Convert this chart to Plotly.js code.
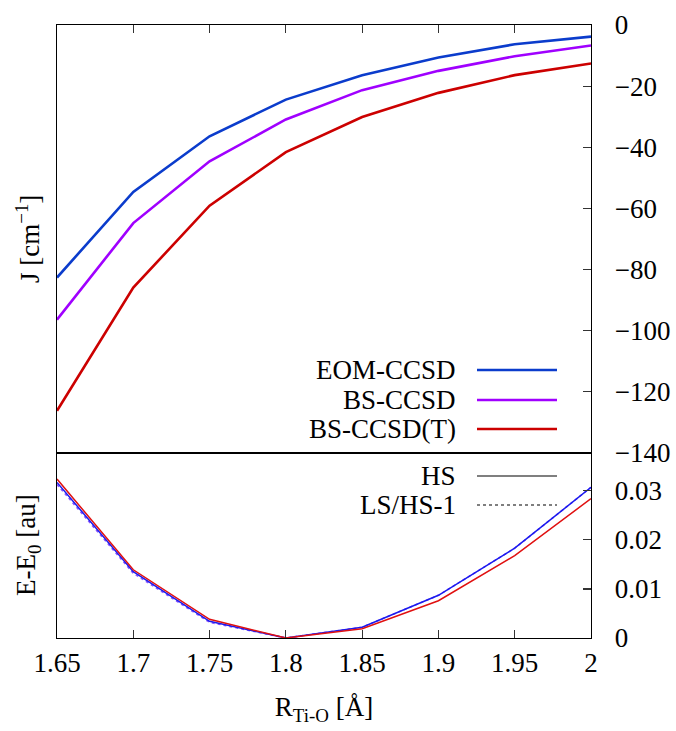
<!DOCTYPE html>
<html>
<head>
<meta charset="utf-8">
<script src="https://cdn.plot.ly/plotly-3.0.1.min.js"></script>
<style>html,body{margin:0;padding:0;background:#fff;}#chart{width:676px;height:731px;}</style>
</head>
<body>
<div id="chart"></div>
<script>
// ---- data ----
const R = [1.65, 1.7, 1.75, 1.8, 1.85, 1.9, 1.95, 2.0];
const J_EOM_CCSD = [-82.6, -54.6, -36.4, -24.4, -16.4, -10.6, -6.3, -3.8];
const J_BS_CCSD = [-96.4, -64.8, -44.6, -30.9, -21.3, -15.0, -10.2, -6.7];
const J_BS_CCSD_T = [-126.2, -85.9, -59.1, -41.6, -30.1, -22.2, -16.4, -12.6];
const E_HS_blue = [0.0317, 0.0135, 0.0034, 0.0, 0.0022, 0.0087, 0.0183, 0.0307];
const E_LS_purple = [0.0313, 0.0132, 0.0032, 0.0, 0.0022, 0.0087, 0.0183, 0.0307];
const E_HS_red = [0.0324, 0.0139, 0.0038, 0.0, 0.0019, 0.0076, 0.0168, 0.0284];
const xTicks = [1.65, 1.7, 1.75, 1.8, 1.85, 1.9, 1.95, 2];
const xTickText = ['1.65', '1.7', '1.75', '1.8', '1.85', '1.9', '1.95', '2'];
const jTicks = [0, -20, -40, -60, -80, -100, -120, -140];
const eTicks = [0, 0.01, 0.02, 0.03];
const eTickText = ['0', '0.01', '0.02', '0.03'];
const topLegend = ['EOM-CCSD', 'BS-CCSD', 'BS-CCSD(T)'];
const botLegend = ['HS', 'LS/HS-1'];

const cBlue = '#0b3ccc', cPurple = '#a000ff', cRed = '#cc0000';
const FONT = 'Liberation Serif, Times New Roman, serif';

const traces = [
  {x: R, y: J_EOM_CCSD, xaxis: 'x2', yaxis: 'y2', mode: 'lines', name: topLegend[0], line: {color: cBlue, width: 2.6}},
  {x: R, y: J_BS_CCSD, xaxis: 'x2', yaxis: 'y2', mode: 'lines', name: topLegend[1], line: {color: cPurple, width: 2.6}},
  {x: R, y: J_BS_CCSD_T, xaxis: 'x2', yaxis: 'y2', mode: 'lines', name: topLegend[2], line: {color: cRed, width: 2.6}},
  {x: R, y: E_LS_purple, xaxis: 'x', yaxis: 'y', mode: 'lines', name: 'LS/HS-1', line: {color: '#8a55ff', width: 1.6, dash: 'dot'}},
  {x: R, y: E_HS_blue, xaxis: 'x', yaxis: 'y', mode: 'lines', name: 'HS', line: {color: '#1a1aee', width: 1.5}},
  {x: R, y: E_HS_red, xaxis: 'x', yaxis: 'y', mode: 'lines', name: 'HS', line: {color: '#e01010', width: 1.5}}
];

const split = 185 / 613;
const axFont = {family: FONT, size: 27, color: '#000'};

// legend layout (paper coordinates)
const legX0 = (477 - 57) / 534, legX1 = (557 - 57) / 534, legTextX = (458 - 57) / 534;
const topRows = [370, 400, 429].map(p => 1 - (p - 25) / 613);
const botRows = [476, 505].map(p => 1 - (p - 25) / 613);

const annotations = [];
const shapes = [];
const topColors = [cBlue, cPurple, cRed];
topLegend.forEach((t, i) => {
  annotations.push({text: t, xref: 'paper', yref: 'paper', x: legTextX, y: topRows[i], xanchor: 'right', yanchor: 'middle', showarrow: false, font: axFont});
  shapes.push({type: 'line', xref: 'paper', yref: 'paper', x0: legX0, x1: legX1, y0: topRows[i], y1: topRows[i], line: {color: topColors[i], width: 2.6}});
});
const botStyles = [{color: '#555', width: 1.5, dash: 'solid'}, {color: '#555', width: 1.5, dash: 'dot'}];
botLegend.forEach((t, i) => {
  annotations.push({text: t, xref: 'paper', yref: 'paper', x: legTextX, y: botRows[i], xanchor: 'right', yanchor: 'middle', showarrow: false, font: axFont});
  shapes.push({type: 'line', xref: 'paper', yref: 'paper', x0: legX0, x1: legX1, y0: botRows[i], y1: botRows[i], line: botStyles[i]});
});
annotations.push({text: 'J [cm<sup>−1</sup>]', xref: 'paper', yref: 'paper', x: (28 - 57) / 534, y: 1 - (239 - 25) / 613, textangle: -90, xanchor: 'center', yanchor: 'middle', showarrow: false, font: axFont});
annotations.push({text: 'E-E<sub>0</sub> [au]', xref: 'paper', yref: 'paper', x: (28 - 57) / 534, y: 1 - (545 - 25) / 613, textangle: -90, xanchor: 'center', yanchor: 'middle', showarrow: false, font: axFont});

const layout = {
  width: 676, height: 731,
  margin: {l: 57, r: 85, t: 25, b: 93},
  paper_bgcolor: '#fff', plot_bgcolor: '#fff',
  showlegend: false,
  font: axFont,
  xaxis: {
    domain: [0, 1], anchor: 'y', range: [1.65, 2],
    tickvals: xTicks, ticktext: xTickText,
    ticks: 'inside', ticklen: 8, tickwidth: 1.2, tickcolor: '#333',
    showline: true, mirror: true, linecolor: '#000', linewidth: 1.4,
    showgrid: false, zeroline: false, tickfont: axFont,
    title: {text: 'R<sub>Ti-O</sub> [Å]', font: axFont, standoff: 20}
  },
  yaxis: {
    domain: [0, split], anchor: 'x', side: 'right', range: [0, 0.0377],
    tickvals: eTicks, ticktext: eTickText,
    ticks: 'inside', ticklen: 8, tickwidth: 1.2, tickcolor: '#333',
    showline: true, mirror: true, linecolor: '#000', linewidth: 1.4,
    showgrid: false, zeroline: false, tickfont: axFont, ticklabelstandoff: 17
  },
  xaxis2: {
    domain: [0, 1], anchor: 'y2', side: 'top', matches: 'x', range: [1.65, 2],
    tickvals: xTicks, showticklabels: false,
    ticks: 'inside', ticklen: 8, tickwidth: 1.2, tickcolor: '#333',
    showline: true, mirror: true, linecolor: '#000', linewidth: 1.4,
    showgrid: false, zeroline: false
  },
  yaxis2: {
    domain: [split, 1], anchor: 'x2', side: 'right', range: [-140, 0],
    tickvals: jTicks, ticktext: jTicks.map(v => v < 0 ? '−' + Math.abs(v) : String(v)),
    ticks: 'inside', ticklen: 8, tickwidth: 1.2, tickcolor: '#333',
    showline: true, mirror: true, linecolor: '#000', linewidth: 1.4,
    showgrid: false, zeroline: false, tickfont: axFont, ticklabelstandoff: 17
  },
  annotations: annotations,
  shapes: shapes
};

Plotly.newPlot('chart', traces, layout, {staticPlot: true, displayModeBar: false});
</script>
</body>
</html>
